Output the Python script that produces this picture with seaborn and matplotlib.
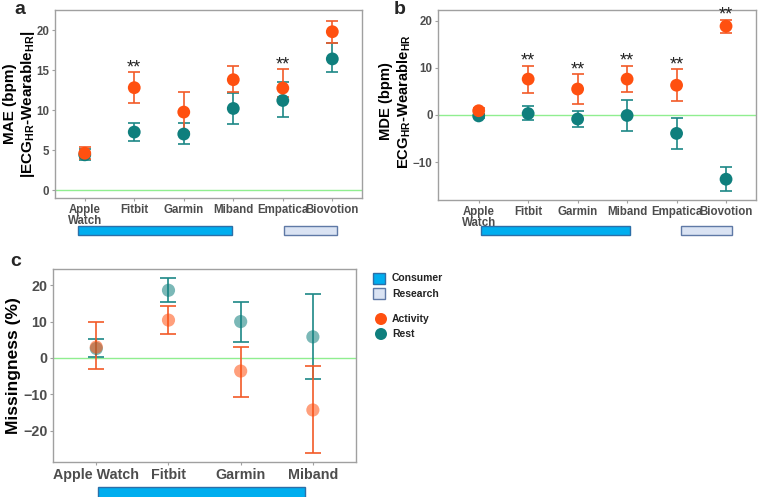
import numpy as np
import pandas as pd
import matplotlib
matplotlib.use("Agg")
import matplotlib.pyplot as plt
from matplotlib.patches import Rectangle, Circle
import matplotlib.transforms as mtransforms
import seaborn as sns

sns.set_theme(style="white")
plt.rcParams['font.family'] = ['Liberation Sans', 'DejaVu Sans']
plt.rcParams['mathtext.fontset'] = 'custom'
plt.rcParams['mathtext.rm'] = 'Liberation Sans:bold'
plt.rcParams['mathtext.bf'] = 'Liberation Sans:bold'
plt.rcParams['mathtext.default'] = 'bf'

# ---------------- data ----------------
devices6 = ["Apple\nWatch", "Fitbit", "Garmin", "Miband", "Empatica", "Biovotion"]
devices4 = ["Apple Watch", "Fitbit", "Garmin", "Miband"]

# Panel a: MAE
mae_act = [4.6, 12.8, 9.75, 13.8, 12.75, 19.8]
mae_act_lo = [3.9, 10.9, 7.25, 12.2, 11.6, 18.4]
mae_act_hi = [5.4, 14.7, 12.25, 15.5, 15.1, 21.2]
mae_rest = [4.4, 7.25, 7.0, 10.2, 11.2, 16.4]
mae_rest_lo = [3.7, 6.1, 5.7, 8.2, 9.1, 14.7]
mae_rest_hi = [5.1, 8.4, 8.4, 12.1, 13.5, 18.4]
mae_sig = [False, True, False, False, True, False]

# Panel b: MDE
mde_act = [0.9, 7.6, 5.5, 7.6, 6.3, 18.8]
mde_act_lo = [0.3, 4.7, 2.4, 4.8, 3.0, 17.4]
mde_act_hi = [1.4, 10.4, 8.6, 10.4, 9.7, 20.2]
mde_rest = [-0.2, 0.3, -0.85, -0.1, -3.9, -13.6]
mde_rest_lo = [-0.6, -1.1, -2.5, -3.3, -7.2, -16.1]
mde_rest_hi = [0.3, 1.8, 0.85, 3.2, -0.6, -11.1]
mde_sig = [False, True, True, True, True, True]

# Panel c: Missingness
mis_act = [3.0, 10.4, -3.6, -14.3]
mis_act_lo = [-3.1, 6.6, -10.6, -26.2]
mis_act_hi = [9.9, 14.2, 3.1, -2.3]
mis_rest = [2.6, 18.6, 10.0, 5.8]
mis_rest_lo = [0.2, 15.3, 4.4, -5.8]
mis_rest_hi = [5.1, 22.0, 15.4, 17.7]

ORANGE = "#FF5010"
ORANGE_E = "#F25A28"
TEAL = "#0F7F7D"
TEAL_E = "#1C8886"
BLUE = "#00AEEF"
BLUE_EDGE = "#2C6FA8"
LIGHT = "#DAE3F3"
LIGHT_EDGE = "#5F79A6"
GREEN = "#90EE90"
TICKC = "#4D4D4D"
SPINEC = "#A0A0A0"

fig = plt.figure(figsize=(7.58, 4.97), dpi=100)
ax_a = fig.add_axes([0.0726, 0.6016, 0.405, 0.378])
ax_b = fig.add_axes([0.578, 0.5976, 0.419, 0.382])
ax_c = fig.add_axes([0.0699, 0.0704, 0.400, 0.388])


def make_df(labels, act, act_lo, act_hi, rest, rest_lo, rest_hi):
    n = len(labels)
    rows = []
    for i in range(n):
        rows.append(dict(pos=i, device=labels[i], cond="Rest", val=rest[i], lo=rest_lo[i], hi=rest_hi[i]))
    for i in range(n):
        rows.append(dict(pos=i, device=labels[i], cond="Activity", val=act[i], lo=act_lo[i], hi=act_hi[i]))
    return pd.DataFrame(rows)


def draw_panel(ax, df, labels, alpha, msize, capsize, tick_fs):
    for cond, ecol in [("Rest", TEAL_E), ("Activity", ORANGE_E)]:
        d = df[df.cond == cond]
        ax.errorbar(d.pos, d.val, yerr=[d.val - d.lo, d.hi - d.val], fmt="none",
                    ecolor=ecol, elinewidth=1.2, capsize=capsize, capthick=1.2, zorder=2)
    sns.scatterplot(data=df, x="pos", y="val", hue="cond",
                    palette={"Activity": ORANGE, "Rest": TEAL},
                    hue_order=["Rest", "Activity"], s=msize, alpha=alpha,
                    linewidth=0, legend=False, ax=ax, zorder=3)
    ax.axhline(0, color=GREEN, lw=1.0, zorder=1)
    ax.set_xticks(range(len(labels)))
    ax.set_xticklabels(labels, fontsize=tick_fs, fontweight="bold", color=TICKC, linespacing=0.95)
    ax.tick_params(axis="both", colors=SPINEC, labelcolor=TICKC, length=2.5, width=0.8,
                   labelsize=tick_fs, pad=1.5, bottom=True, left=True)
    for sp in ax.spines.values():
        sp.set_color(SPINEC)
        sp.set_linewidth(1.0)
    ax.set_xlabel("")


def bold_ticks(ax):
    for lab in ax.get_yticklabels() + ax.get_xticklabels():
        lab.set_fontweight("bold")


def cat_bar(ax, x0, x1, y0, y1, face, edge):
    trans = mtransforms.blended_transform_factory(ax.transData, ax.transAxes)
    r = Rectangle((x0, y0), x1 - x0, y1 - y0, transform=trans, facecolor=face,
                  edgecolor=edge, linewidth=1.0, clip_on=False)
    ax.add_patch(r)


def stars(ax, sig, hi):
    for i, sg in enumerate(sig):
        if sg:
            ax.text(i, hi[i], "**", ha="center", va="baseline", fontsize=13, color="#222222")


# ---- panel a
dfa = make_df(devices6, mae_act, mae_act_lo, mae_act_hi, mae_rest, mae_rest_lo, mae_rest_hi)
draw_panel(ax_a, dfa, devices6, 1.0, 85, 4.5, 8.3)
ax_a.set_xlim(-0.6, 5.6)
ax_a.set_ylim(-1.0, 22.5)
ax_a.set_yticks([0, 5, 10, 15, 20])
bold_ticks(ax_a)
ax_a.set_ylabel("MAE (bpm)\n|ECG$_{HR}$-Wearable$_{HR}$|", fontsize=11, fontweight="bold",
                color="black", linespacing=1.15)
ax_a.yaxis.set_label_coords(-0.058, 0.5)
stars(ax_a, mae_sig, mae_act_hi)
cat_bar(ax_a, -0.14, 2.98, -0.197, -0.149, BLUE, BLUE_EDGE)
cat_bar(ax_a, 4.03, 5.1, -0.197, -0.149, LIGHT, LIGHT_EDGE)

# ---- panel b
dfb = make_df(devices6, mde_act, mde_act_lo, mde_act_hi, mde_rest, mde_rest_lo, mde_rest_hi)
draw_panel(ax_b, dfb, devices6, 1.0, 85, 4.5, 8.3)
ax_b.set_xlim(-0.82, 5.6)
ax_b.set_ylim(-18.0, 22.2)
ax_b.set_yticks([-10, 0, 10, 20])
bold_ticks(ax_b)
ax_b.set_ylabel("MDE (bpm)\nECG$_{HR}$-Wearable$_{HR}$", fontsize=10.6, fontweight="bold",
                color="black", linespacing=1.15)
ax_b.yaxis.set_label_coords(-0.08, 0.52)
stars(ax_b, mde_sig, mde_act_hi)
cat_bar(ax_b, 0.04, 3.06, -0.184, -0.137, BLUE, BLUE_EDGE)
cat_bar(ax_b, 4.08, 5.13, -0.184, -0.137, LIGHT, LIGHT_EDGE)

# ---- panel c
dfc = make_df(devices4, mis_act, mis_act_lo, mis_act_hi, mis_rest, mis_rest_lo, mis_rest_hi)
draw_panel(ax_c, dfc, devices4, 0.55, 90, 6, 10.3)
ax_c.set_xlim(-0.6, 3.6)
ax_c.set_ylim(-28.6, 24.4)
ax_c.set_yticks([-20, -10, 0, 10, 20])
bold_ticks(ax_c)
ax_c.set_ylabel("Missingness (%)", fontsize=12.5, fontweight="bold", color="black")
ax_c.yaxis.set_label_coords(-0.105, 0.5)
cat_bar(ax_c, 0.02, 2.89, -0.2, -0.13, BLUE, BLUE_EDGE)

# ---- panel letters
fig.text(0.019, 0.998, "a", fontsize=14, fontweight="bold", va="top")
fig.text(0.520, 0.998, "b", fontsize=14, fontweight="bold", va="top")
fig.text(0.014, 0.490, "c", fontsize=14, fontweight="bold", va="top")

# ---- legend (manual, figure pixel coords)
W, H = 758.0, 497.0
def fx(px):
    return px / W
def fy(py):
    return 1 - py / H

fig.add_artist(Rectangle((fx(373), fy(284)), 12 / W, 11 / H, transform=fig.transFigure,
                         facecolor=BLUE, edgecolor=BLUE_EDGE, linewidth=1.0))
fig.add_artist(Rectangle((fx(373), fy(299)), 12 / W, 11 / H, transform=fig.transFigure,
                         facecolor=LIGHT, edgecolor=LIGHT_EDGE, linewidth=1.0))
fig.text(fx(392), fy(278), "Consumer", fontsize=7.5, fontweight="bold", va="center", color="#222222")
fig.text(fx(392), fy(294), "Research", fontsize=7.5, fontweight="bold", va="center", color="#222222")
leg_ax = fig.add_axes([0, 0, 1, 1], facecolor="none")
leg_ax.set_xlim(0, W)
leg_ax.set_ylim(H, 0)
leg_ax.axis("off")
leg_ax.add_patch(Circle((381, 319), 6, facecolor=ORANGE, edgecolor="none"))
leg_ax.add_patch(Circle((381, 334), 6, facecolor=TEAL, edgecolor="none"))
leg_ax.set_aspect("equal")
fig.text(fx(392), fy(319), "Activity", fontsize=7.5, fontweight="bold", va="center", color="#222222")
fig.text(fx(392), fy(334), "Rest", fontsize=7.5, fontweight="bold", va="center", color="#222222")

fig.savefig("out.png", dpi=100)
